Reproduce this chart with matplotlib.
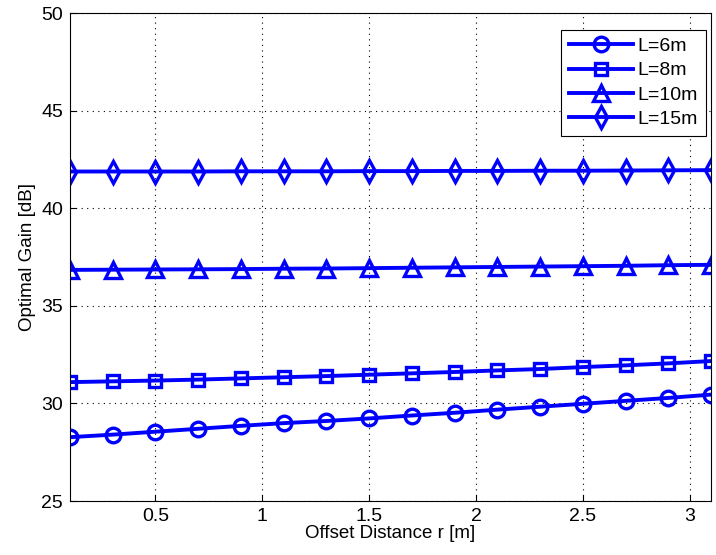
import matplotlib
matplotlib.use("Agg")
import matplotlib.pyplot as plt
import numpy as np

plt.rcParams['font.family'] = ['Liberation Sans', 'DejaVu Sans']

# Offset distance r [m]
r = [0.1, 0.3, 0.5, 0.7, 0.9, 1.1, 1.3, 1.5, 1.7, 1.9, 2.1, 2.3, 2.5, 2.7, 2.9, 3.1]

# Optimal gain [dB] for each link length L
gain_L6 = [28.27, 28.40, 28.55, 28.70, 28.85, 28.99, 29.10, 29.23, 29.38, 29.52,
           29.68, 29.83, 29.98, 30.13, 30.28, 30.45]
gain_L8 = [31.09, 31.13, 31.17, 31.22, 31.28, 31.34, 31.40, 31.47, 31.54, 31.61,
           31.69, 31.76, 31.86, 31.95, 32.05, 32.17]
gain_L10 = [36.84, 36.85, 36.86, 36.87, 36.88, 36.90, 36.91, 36.93, 36.95, 36.97,
            36.99, 37.01, 37.03, 37.05, 37.08, 37.10]
gain_L15 = [41.88, 41.88, 41.88, 41.88, 41.89, 41.89, 41.89, 41.90, 41.90, 41.91,
            41.91, 41.92, 41.92, 41.93, 41.94, 41.95]

labels = ['L=6m', 'L=8m', 'L=10m', 'L=15m']
markers = ['o', 's', '^', 'd']
msizes = [10.5, 8.5, 11, 11]
series = [gain_L6, gain_L8, gain_L10, gain_L15]

xticks = [0.5, 1, 1.5, 2, 2.5, 3]
yticks = [25, 30, 35, 40, 45, 50]

fig = plt.figure(figsize=(7.16, 5.55), dpi=100)
ax = fig.add_axes([70 / 716, 1 - 501 / 555, 641 / 716, 488 / 555])

for y, m, ms, lab in zip(series, markers, msizes, labels):
    ax.plot(r, y, color='#0000ff', linewidth=2.8, marker=m, markersize=ms,
            markerfacecolor='none', markeredgewidth=2.4, label=lab)

ax.set_xlim(0.1, 3.1)
ax.set_ylim(25, 50)
ax.set_xticks(xticks)
ax.set_xticklabels([f'{v:g}' for v in xticks])
ax.set_yticks(yticks)
ax.tick_params(direction='in', labelsize=14, length=4, color='black', pad=5)
ax.grid(True, linestyle=(0, (1, 4)), color='black', linewidth=0.8)
for s in ax.spines.values():
    s.set_linewidth(0.8)

ax.set_xlabel('Offset Distance r [m]', fontsize=13.5, labelpad=0)
ax.set_ylabel('Optimal Gain [dB]', fontsize=13.5, labelpad=4)

leg = ax.legend(loc='upper right', fontsize=14, frameon=True, fancybox=False,
                edgecolor='black', framealpha=1, handlelength=3.3,
                borderaxespad=0.0, labelspacing=0.35, handletextpad=0.25,
                borderpad=0.4, bbox_to_anchor=(0.992, 0.966))
leg.get_frame().set_linewidth(0.8)

fig.savefig('out.png', dpi=100)
